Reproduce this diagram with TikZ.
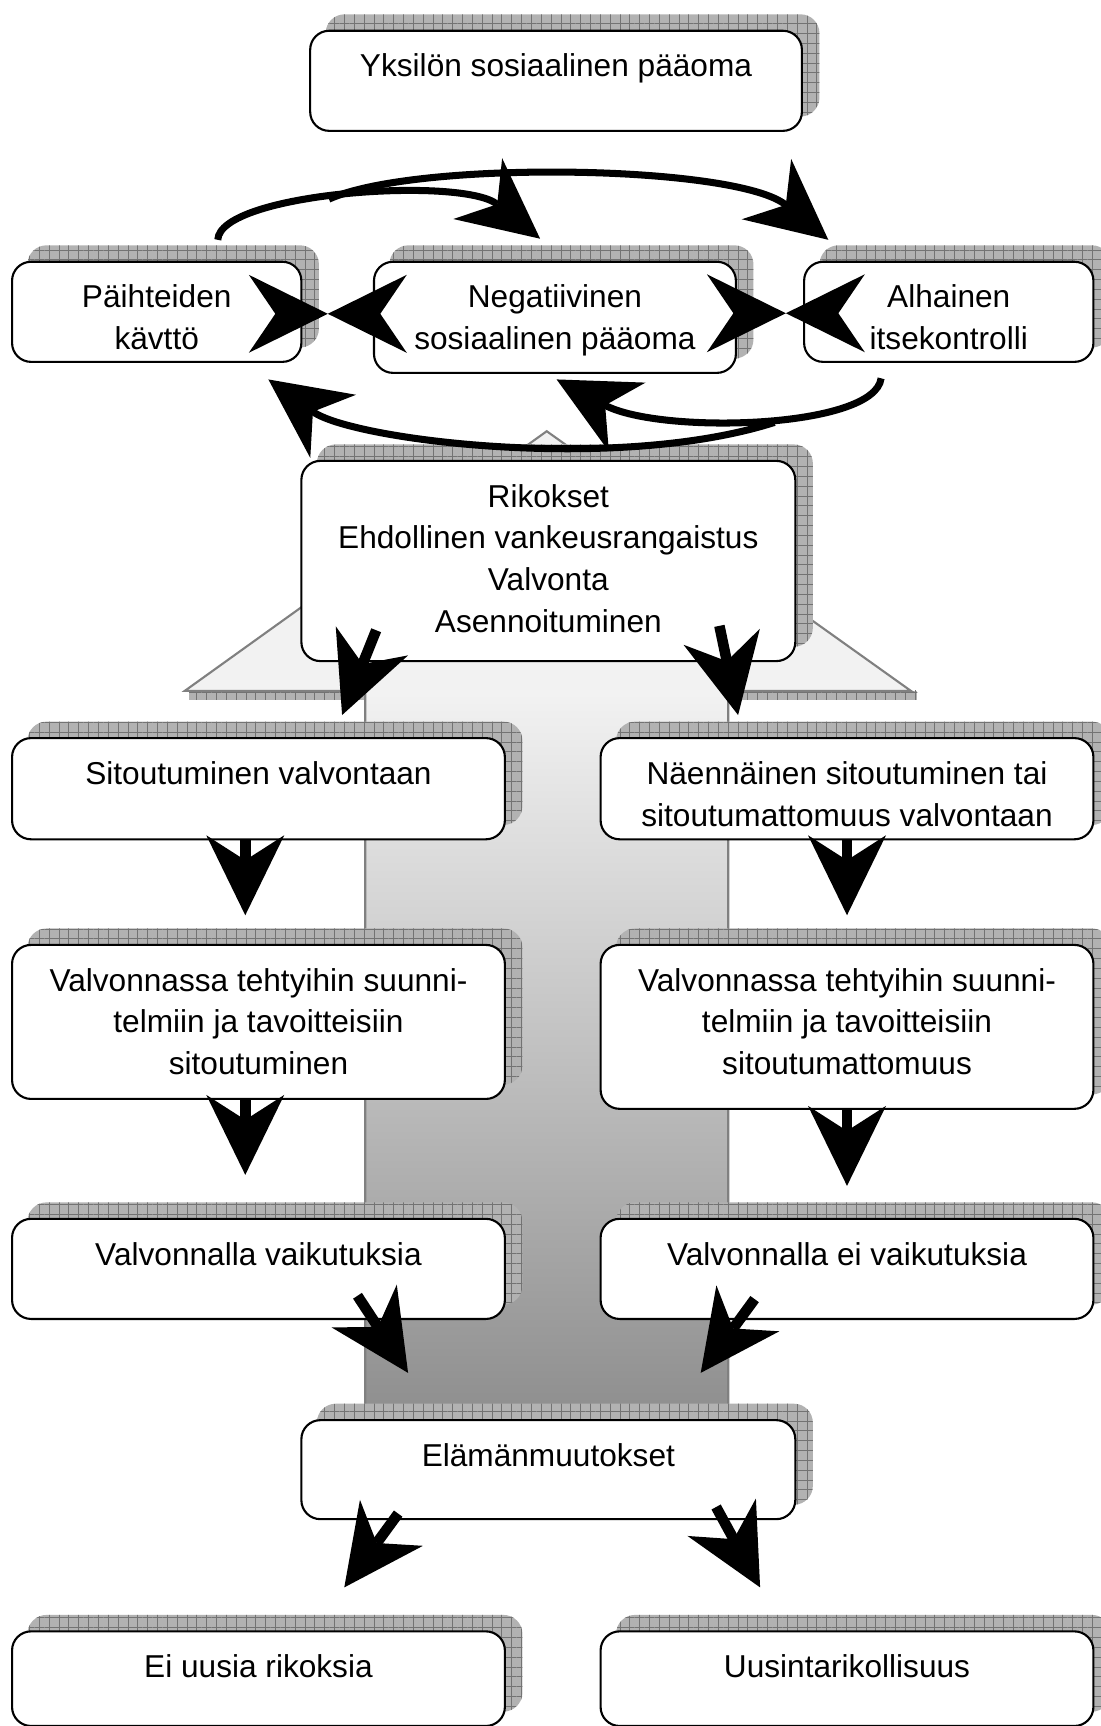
\documentclass[tikz,border=0pt]{standalone}
\usepackage{fontspec}
\setmainfont{Liberation Sans}
\usetikzlibrary{arrows.meta,calc,patterns.meta}
\pgfdeclarelayer{tausta}
\pgfdeclarelayer{varjot}
\pgfsetlayers{tausta,varjot,main}
\newlength\yks
\setlength\yks{0.022cm}
\newcommand\teksti[3]{\parbox[t][#2\yks][t]{#1\yks}{\centering\rule{0pt}{42\yks}#3}}
\tikzset{
  laatikko/.style={draw, line width=1.2pt, rounded corners=0.38cm, fill=white,
    inner sep=0pt, anchor=north west, font=\fontsize{18}{23.8}\selectfont},
  varjo/.style={rounded corners=0.38cm, fill=black!30,
    postaction={pattern={Lines[distance=5.6pt,line width=0.45pt]}, pattern color=black!55},
    postaction={pattern={Lines[angle=90,distance=5.6pt,line width=0.45pt]}, pattern color=black!55}},
  nuoli/.style={line width=6pt, -{Stealth[length=1.6cm,width=1.56cm,inset=0.5cm,line width=0pt]}},
  kaari/.style={line width=4pt, -{Stealth[length=1.6cm,width=1.56cm,inset=0.5cm,line width=0pt]}},
  karki/.style={line width=0.1pt, -{Stealth[length=1.58cm,width=1.56cm,inset=0.53cm,line width=0pt]}},
}
\begin{document}
\begin{tikzpicture}[x=0.022cm, y=-0.022cm]
\useasboundingbox (0,0) rectangle (1000,1569);
% laatikot
\node[laatikko] (paaoma) at (281,27) {\teksti{447}{91}{Yksilön sosiaalinen pääoma}};
\node[laatikko] (paihde) at (10,237) {\teksti{263}{91}{Päihteiden\\kävttö}};
\node[laatikko] (negat) at (339,237) {\teksti{329}{101}{Negatiivinen\\sosiaalinen pääoma}};
\node[laatikko] (itsek) at (730,237) {\teksti{263}{91}{Alhainen\\itsekontrolli}};
\node[laatikko] (rikos) at (273,418) {\teksti{449}{182}{Rikokset\\Ehdollinen vankeusrangaistus\\Valvonta\\Asennoituminen}};
\node[laatikko] (sitou) at (10,670) {\teksti{448}{92}{Sitoutuminen valvontaan}};
\node[laatikko] (naenn) at (545,670) {\teksti{448}{92}{Näennäinen sitoutuminen tai\\sitoutumattomuus valvontaan}};
\node[laatikko] (suunL) at (10,858) {\teksti{448}{140}{Valvonnassa tehtyihin suunni-\\telmiin ja tavoitteisiin\\sitoutuminen}};
\node[laatikko] (suunR) at (545,858) {\teksti{448}{149}{Valvonnassa tehtyihin suunni-\\telmiin ja tavoitteisiin\\sitoutumattomuus}};
\node[laatikko] (vaikL) at (10,1107) {\teksti{448}{91}{Valvonnalla vaikutuksia}};
\node[laatikko] (vaikR) at (545,1107) {\teksti{448}{91}{Valvonnalla ei vaikutuksia}};
\node[laatikko] (elama) at (273,1290) {\teksti{449}{90}{Elämänmuutokset}};
\node[laatikko] (eiuus) at (10,1482) {\teksti{448}{86}{Ei uusia rikoksia}};
\node[laatikko] (uusin) at (545,1482) {\teksti{448}{86}{Uusintarikollisuus}};

% varjot
\begin{pgfonlayer}{varjot}
\foreach \n in {paaoma,paihde,negat,itsek,rikos,sitou,naenn,suunL,suunR,vaikL,vaikR,elama,eiuus,uusin}
  \path[varjo] ($(\n.south west)+(15,-14)$) rectangle ($(\n.north east)+(15,-14)$);
\end{pgfonlayer}

% iso nuoli taustalla
\begin{pgfonlayer}{tausta}
\path[varjo, rounded corners=0pt] (172,628) rectangle (834,636);
\fill[black!5] (168,628) -- (497,392) -- (828,628) -- cycle;
\shade[top color=black!5, bottom color=black!45] (332,628) rectangle (662,1300);
\draw[gray, line width=1.2pt] (332,1300) -- (332,628) -- (168,628) -- (497,392)
  -- (828,628) -- (662,628) -- (662,1300);
\end{pgfonlayer}

% kaaret ylhaalla ja alhaalla
\draw[kaari] ($(paihde.north)+(55.5,-19)$) .. controls (200,175) and (420,160) .. ($(negat.north)+(-13.5,-20)$);
\coordinate (haara1) at (299,181);
\draw[kaari] (haara1) .. controls (380,145) and (670,150) .. ($(itsek.north)+(-109.5,-19)$);
\draw[kaari] ($(itsek.south)+(-61.5,14)$) .. controls (795,390) and (600,395) .. ($(negat.south)+(1.5,5)$);
\coordinate (haara2) at (704,384);
\draw[kaari] (haara2) .. controls (560,430) and (320,400) .. ($(paihde.south)+(101.5,15)$);

% rusetit
\coordinate (rusetti1) at ($(paihde.east)!0.36!(negat.west)$);
\coordinate (rusetti2) at ($(negat.east)!0.74!(itsek.west)$);
\draw[karki] ($(rusetti1)+(-46,0)$) -- (rusetti1);
\draw[karki] ($(rusetti1)+(46,0)$) -- (rusetti1);
\draw[karki] ($(rusetti2)+(-46,0)$) -- (rusetti2);
\draw[karki] ($(rusetti2)+(46,0)$) -- (rusetti2);

% nuolet alaspain
\draw[nuoli] ($(rikos.south)+(-156.5,-29)$) -- ($(sitou.north)+(76,-20)$);
\draw[nuoli] ($(rikos.south)+(155.5,-33)$) -- ($(naenn.north)+(-99,-20)$);
\draw[nuoli, shorten >=26\yks] ($(sitou.south)+(-12,0)$) -- ($(suunL.north)+(-12,0)$);
\draw[nuoli, shorten >=26\yks] (naenn.south) -- (suunR.north);
\draw[nuoli, shorten >=39\yks] ($(suunL.south)+(-12,0)$) -- ($(vaikL.north)+(-12,0)$);
\draw[nuoli, shorten >=29\yks] (suunR.south) -- (vaikR.north);
\draw[nuoli] ($(vaikL.south)+(90,-22)$) -- ($(elama.north)+(-127.5,-42)$);
\draw[nuoli] ($(vaikR.south)+(-84,-19)$) -- ($(elama.north)+(138.5,-42)$);
\draw[nuoli] ($(elama.south)+(-136.5,-6)$) -- ($(eiuus.north)+(78,-39)$);
\draw[nuoli] ($(elama.south)+(152.5,-12)$) -- ($(uusin.north)+(-79,-39)$);
\end{tikzpicture}
\end{document}
